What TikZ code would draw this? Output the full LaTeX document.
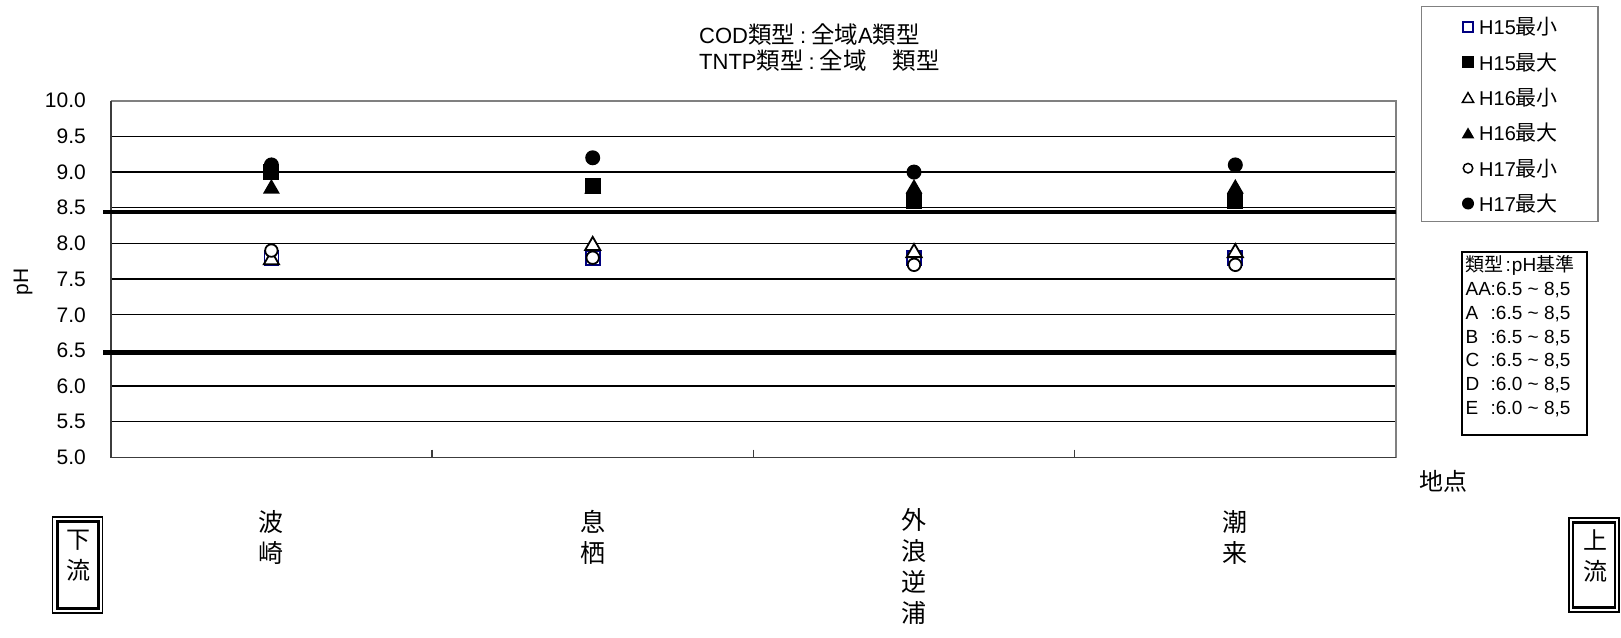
\documentclass[tikz,border=0pt]{standalone}
\usepackage{fontspec}
\setmainfont{Liberation Sans}
\newfontfamily\cjk{Noto Sans CJK JP}
\usetikzlibrary{shapes.geometric}
\definecolor{navyb}{RGB}{0,0,128}
\definecolor{framegray}{RGB}{128,128,128}
\definecolor{axisdark}{RGB}{60,60,60}
\newcommand\setfs[2]{\fontsize{#1}{#2}\selectfont}
\newcommand\tcj[1]{{\cjk\setfs{23.5pt}{26pt}#1}}
\begin{document}
\begin{tikzpicture}[x=1pt,y=-1pt,
  declare function={py(\v)=100.7+(10-\v)*71.36;},
  mk/.style={inner sep=0pt, outer sep=0pt},
  sqO/.style={mk, rectangle, minimum size=14pt, draw=navyb, line width=1.8pt, fill=white},
  sqF/.style={mk, rectangle, minimum size=16pt, fill=black},
  trO/.style={mk, regular polygon, regular polygon sides=3, minimum size=17.5pt, draw=black, line width=1.8pt, fill=white, yshift=-2.2pt},
  trF/.style={mk, regular polygon, regular polygon sides=3, minimum size=19.5pt, fill=black, yshift=-2.4pt},
  ciO/.style={mk, circle, minimum size=12.5pt, draw=black, line width=1.8pt, fill=white},
  ciF/.style={mk, circle, minimum size=15pt, fill=black},
  lsqO/.style={mk, rectangle, minimum size=10pt, draw=navyb, line width=1.6pt, fill=white},
  lsqF/.style={mk, rectangle, minimum size=12pt, fill=black},
  ltrO/.style={mk, regular polygon, regular polygon sides=3, minimum size=13pt, draw=black, line width=1.5pt, fill=white, yshift=-1.6pt},
  ltrF/.style={mk, regular polygon, regular polygon sides=3, minimum size=14.5pt, fill=black, yshift=-1.8pt},
  lciO/.style={mk, circle, minimum size=9.5pt, draw=black, line width=1.5pt, fill=white},
  lciF/.style={mk, circle, minimum size=12pt, fill=black},
  ylab/.style={inner sep=0pt, anchor=east, font=\setfs{21pt}{24pt}},
  ttl/.style={inner sep=0pt, anchor=west, font=\setfs{22pt}{26pt}},
  legtxt/.style={inner sep=0pt, anchor=west, font=\setfs{20pt}{24pt}},
  catlab/.style={inner sep=0pt, anchor=north, align=center, font=\cjk\setfs{25pt}{31pt}},
  grid/.style={line width=1.3pt, black},
  limit/.style={line width=4.5pt, black},
  outerbox/.style={draw=black, line width=1.5pt, inner sep=0pt},
  innerbox/.style={draw=black, line width=2.6pt, inner sep=0pt},
]
\fill[white] (0,0) rectangle (1621,637);
\useasboundingbox (0,0) rectangle (1621,637);

% ---- title ----
\node[ttl] (t1) at (699,35) {COD\tcj{類型}\hspace{5pt}:\hspace{5pt}\tcj{全域}A\tcj{類型}};
\node[ttl] (t2) at (699,61) {TNTP\tcj{類型}\hspace{5pt}:\hspace{5pt}\tcj{全域}\hspace{26pt}\tcj{類型}};

% ---- plot area ----
\foreach \v in {5.5,6.0,6.5,7.0,7.5,8.0,8.5,9.0,9.5}
  \draw[grid] (110.7,{py(\v)}) -- (1396,{py(\v)});
\draw[framegray, line width=2pt] (110.7,100.7) -- (1396,100.7) -- (1396,457.5);
\draw[axisdark, line width=1.8pt] (110.7,100.7) -- (110.7,457.5) -- (1396,457.5);
\foreach \k in {1,2,3}
  \draw[axisdark, line width=1.5pt] ({110.7+321.3*\k},449.5) -- ({110.7+321.3*\k},457.5);
\draw[limit] (103.3,{py(8.44)}) -- (1396,{py(8.44)});
\draw[limit] (103.3,{py(6.47)}) -- (1396,{py(6.47)});

% ---- y labels ----
\foreach \v [count=\i] in {10.0,9.5,9.0,8.5,8.0,7.5,7.0,6.5,6.0,5.5,5.0}
  \node[ylab] (yl\i) at (86,{py(\v)}) {\v};
\node[inner sep=0pt, rotate=90, font=\setfs{21pt}{24pt}] (ph) at (23,281.7) {pH};

% ---- data ----
% order: H15min H15max H16min H16max H17min H17max
\node[sqO] (a1) at (271.4,{py(7.8)}) {};
\node[sqF] (a2) at (271.4,{py(9.0)}) {};
\node[trO] (a3) at (271.4,{py(7.8)}) {};
\node[trF] (a4) at (271.4,{py(8.8)}) {};
\node[ciO] (a5) at (271.4,{py(7.9)}) {};
\node[ciF] (a6) at (271.4,{py(9.1)}) {};

\node[sqO] (b1) at (592.7,{py(7.8)}) {};
\node[trF] (b4) at (592.7,{py(8.8)}) {};
\node[sqF] (b2) at (592.7,{py(8.8)}) {};
\node[trO] (b3) at (592.7,{py(8.0)}) {};
\node[ciO] (b5) at (592.7,{py(7.8)}) {};
\node[ciF] (b6) at (592.7,{py(9.2)}) {};

\node[sqO] (c1) at (914.0,{py(7.8)}) {};
\node[sqF] (c2) at (914.0,{py(8.6)}) {};
\node[trO] (c3) at (914.0,{py(7.9)}) {};
\node[trF] (c4) at (914.0,{py(8.8)}) {};
\node[ciO] (c5) at (914.0,{py(7.7)}) {};
\node[ciF] (c6) at (914.0,{py(9.0)}) {};

\node[sqO] (d1) at (1235.3,{py(7.8)}) {};
\node[sqF] (d2) at (1235.3,{py(8.6)}) {};
\node[trO] (d3) at (1235.3,{py(7.9)}) {};
\node[trF] (d4) at (1235.3,{py(8.8)}) {};
\node[ciO] (d5) at (1235.3,{py(7.7)}) {};
\node[ciF] (d6) at (1235.3,{py(9.1)}) {};

% ---- category labels ----
\node[catlab] (s1) at (271.4,510) {波\\崎};
\node[catlab] (s2) at (592.7,510) {息\\栖};
\node[catlab] (s3) at (914.0,508) {外\\浪\\逆\\浦};
\node[catlab] (s4) at (1235.3,510) {潮\\来};
\node[inner sep=0pt, font=\cjk\setfs{24pt}{28pt}] (chiten) at (1443,481.7) {地点};

% ---- downstream / upstream boxes ----
\node[outerbox, minimum width=50pt, minimum height=96pt] (dnO) at (77.7,565) {};
\node[innerbox, minimum width=41pt, minimum height=87pt] (dnI) at (77.7,565) {};
\node[inner sep=0pt, align=center, font=\cjk\setfs{24pt}{31pt}] (dnT) at (78.5,556) {下\\流};
\node[outerbox, minimum width=50pt, minimum height=94pt] (upO) at (1593.8,565) {};
\node[innerbox, minimum width=42pt, minimum height=85pt] (upI) at (1593.8,565) {};
\node[inner sep=0pt, align=center, font=\cjk\setfs{24pt}{31pt}] (upT) at (1595,556.5) {上\\流};

% ---- legend 1 ----
\node[draw=framegray, line width=1.5pt, minimum width=176.3pt, minimum height=215pt, inner sep=0pt] (leg) at (1509.85,114.2) {};
\node[lsqO] (m1) at (1468,27) {};
\node[lsqF] (m2) at (1468,62.3) {};
\node[ltrO] (m3) at (1468,97.6) {};
\node[ltrF] (m4) at (1468,132.9) {};
\node[lciO] (m5) at (1468,168.2) {};
\node[lciF] (m6) at (1468,203.5) {};
\node[legtxt] (l1) at (1479,27) {H15{\cjk\setfs{21pt}{24pt}最小}};
\node[legtxt] (l2) at (1479,62.3) {H15{\cjk\setfs{21pt}{24pt}最大}};
\node[legtxt] (l3) at (1479,97.6) {H16{\cjk\setfs{21pt}{24pt}最小}};
\node[legtxt] (l4) at (1479,132.9) {H16{\cjk\setfs{21pt}{24pt}最大}};
\node[legtxt] (l5) at (1479,168.2) {H17{\cjk\setfs{21pt}{24pt}最小}};
\node[legtxt] (l6) at (1479,203.5) {H17{\cjk\setfs{21pt}{24pt}最大}};

% ---- legend 2 ----
\node[draw=black, line width=2pt, minimum width=125.6pt, minimum height=183.3pt, inner sep=0pt] (std) at (1524.5,343.35) {};
\node[inner sep=0pt, anchor=north west, align=left, font=\setfs{19pt}{23.8pt}] (stdT) at (1465.5,255.5) {%
{\cjk\setfs{19pt}{23.8pt}類型}\hspace{2pt}:\hspace{1pt}pH{\cjk\setfs{19pt}{23.8pt}基準}\\
\makebox[25pt][l]{AA}:6.5 \textasciitilde{} 8,5\\
\makebox[25pt][l]{A}:6.5 \textasciitilde{} 8,5\\
\makebox[25pt][l]{B}:6.5 \textasciitilde{} 8,5\\
\makebox[25pt][l]{C}:6.5 \textasciitilde{} 8,5\\
\makebox[25pt][l]{D}:6.0 \textasciitilde{} 8,5\\
\makebox[25pt][l]{E}:6.0 \textasciitilde{} 8,5};
\end{tikzpicture}
\end{document}
